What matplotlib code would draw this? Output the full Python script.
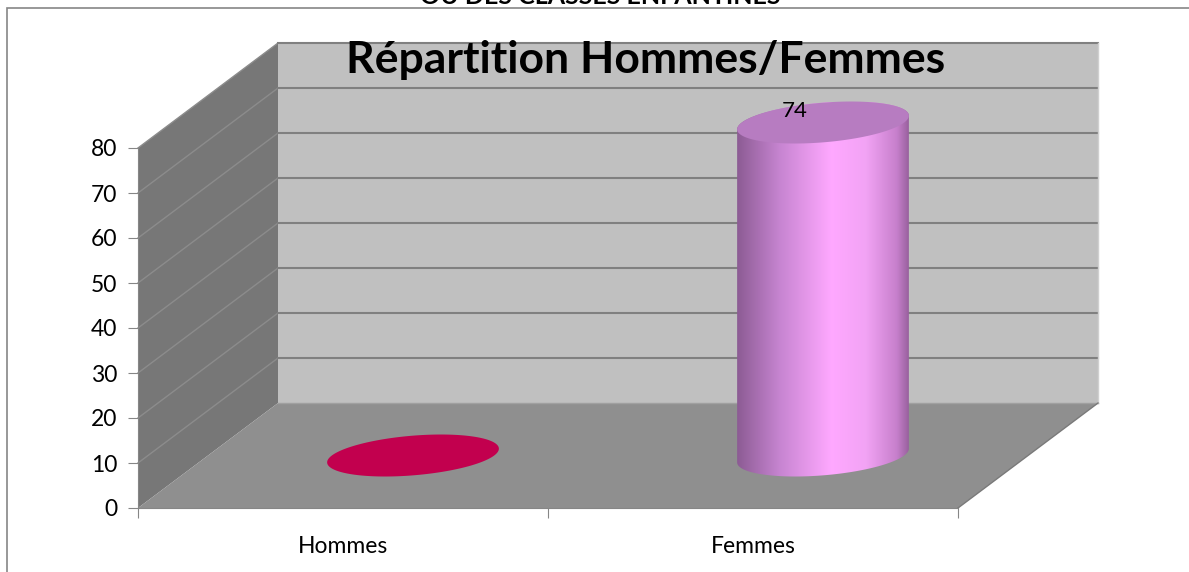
import matplotlib.pyplot as plt
import numpy as np
from matplotlib.patches import Polygon, Rectangle

# Données
categories = ['Hommes', 'Femmes']
valeurs = [0, 74]
y_ticks = [0, 10, 20, 30, 40, 50, 60, 70, 80]
titre = 'Répartition Hommes/Femmes'
sur_titre = 'OU DES CLASSES ENFANTINES'

plt.rcParams['font.family'] = ['Lato', 'DejaVu Sans']

fig = plt.figure(figsize=(11.89, 5.72), dpi=100)
ax = fig.add_axes([138 / 1189, 64 / 572, 820 / 1189, 360 / 572])
ax.set_xlim(-0.5, 1.5)
ax.set_ylim(0, 80)
ax.patch.set_visible(False)

# décalage de profondeur (effet 3D) en unités des données
dx, dy = 0.3415, 23.33
x0, x1 = -0.5, 1.5
vmax = y_ticks[-1]

# murs et sol
mur_gauche = Polygon([(x0, 0), (x0, vmax), (x0 + dx, vmax + dy), (x0 + dx, dy)],
                     closed=True, fc='#777777', ec='none', clip_on=False, zorder=0)
mur_fond = Polygon([(x0 + dx, dy), (x1 + dx, dy), (x1 + dx, vmax + dy), (x0 + dx, vmax + dy)],
                   closed=True, fc='#c0c0c0', ec='none', clip_on=False, zorder=0)
sol = Polygon([(x0, 0), (x1, 0), (x1 + dx, dy), (x0 + dx, dy)],
              closed=True, fc='#8f8f8f', ec='none', clip_on=False, zorder=0)
for p in (mur_gauche, mur_fond, sol):
    ax.add_patch(p)

# quadrillage
for v in y_ticks[1:]:
    ax.plot([x0, x0 + dx], [v, v + dy], color='#8c8c8c', lw=1, clip_on=False, zorder=1)
    ax.plot([x0 + dx, x1 + dx], [v + dy, v + dy], color='#808080', lw=1.5, clip_on=False, zorder=1)
ax.plot([x0 + dx, x1 + dx], [dy, dy], color='#a0a0a0', lw=1, clip_on=False, zorder=1)
ax.plot([x1 + dx, x1 + dx], [dy, vmax + dy], color='#d0d0d0', lw=1, clip_on=False, zorder=1)
ax.plot([x1, x1 + dx], [0, dy], color='#7a7a7a', lw=1, clip_on=False, zorder=1)

# cylindres
rx, rd = 0.198, 0.2


def ellipse(xc, v, t):
    return xc + rx * np.cos(t) + rd * dx * np.sin(t), v + rd * dy * np.sin(t)


phi = np.arctan2(rd * dx, rx)
t_all = np.linspace(0, 2 * np.pi, 200)
for i, val in enumerate(valeurs):
    xc = i + dx / 2
    vb = dy / 2
    if val == 0:
        ex, ey = ellipse(xc, vb, t_all)
        ax.add_patch(Polygon(np.column_stack([ex, ey]), closed=True, fc='#c2004e',
                             ec='none', clip_on=False, zorder=3))
        continue
    vt = val + dy / 2
    t_bas = np.linspace(phi + np.pi, phi + 2 * np.pi, 100)
    t_haut = np.linspace(phi, phi + np.pi, 100)
    bx, by = ellipse(xc, vb, t_bas)
    hx, hy = ellipse(xc, vt, t_haut)
    corps = Polygon(np.column_stack([np.r_[bx, hx], np.r_[by, hy]]), closed=True,
                    fc='none', ec='none', clip_on=False, zorder=3)
    ax.add_patch(corps)
    grad = np.array([[0.0, 0.25, 0.55, 0.75, 0.93, 1.0]])
    cols = np.array([[0.55, 0.36, 0.58], [0.78, 0.52, 0.82], [1.0, 0.66, 1.0],
                     [0.95, 0.64, 0.96], [0.78, 0.50, 0.80], [0.60, 0.38, 0.62]])
    xs = np.linspace(0, 1, 300)
    img = np.stack([np.interp(xs, grad[0], cols[:, k]) for k in range(3)], axis=-1)[None, :, :]
    left, right = bx.min(), bx.max()
    im = ax.imshow(img, extent=[left, right, vb - rd * dy, vt + rd * dy], aspect='auto',
                   zorder=3, interpolation='bilinear')
    im.set_clip_path(corps)
    im.set_clip_box(fig.bbox)
    ex, ey = ellipse(xc, vt, t_all)
    ax.add_patch(Polygon(np.column_stack([ex, ey]), closed=True, fc='#b77cc1',
                         ec='none', clip_on=False, zorder=4))
    ax.text(xc - 0.07, vt + 2.5, str(val), ha='center', va='center', fontsize=16,
            color='black', zorder=5)

ax.set_xlim(-0.5, 1.5)
ax.set_ylim(0, 80)

# axes
for s in ('top', 'right'):
    ax.spines[s].set_visible(False)
for s in ('left', 'bottom'):
    ax.spines[s].set_color('#868686')
    ax.spines[s].set_zorder(2)
ax.set_yticks(y_ticks)
ax.tick_params(axis='y', length=7, color='#868686', labelsize=16.5, pad=8)
ax.set_xticks([-0.5, 0.5, 1.5])
ax.set_xticklabels([])
ax.set_xticks([0, 1], minor=True)
ax.set_xticklabels(categories, minor=True)
ax.tick_params(axis='x', which='major', length=7, color='#868686')
ax.tick_params(axis='x', which='minor', length=0, labelsize=16.5, pad=20)

# titres
fig.text(646 / 1189, 1 - 60 / 572, titre, ha='center', va='center', fontsize=32,
         fontweight='bold')
fig.text(600 / 1189, 1 + 4 / 572, sur_titre, ha='center', va='center', fontsize=18,
         fontweight='bold')

# cadre
fig.add_artist(Rectangle((7 / 1189, -0.1), 1.2, 1.1 - 8 / 572, transform=fig.transFigure,
                         fill=False, ec='#868686', lw=1.2))

fig.savefig('out.png', dpi=100)
